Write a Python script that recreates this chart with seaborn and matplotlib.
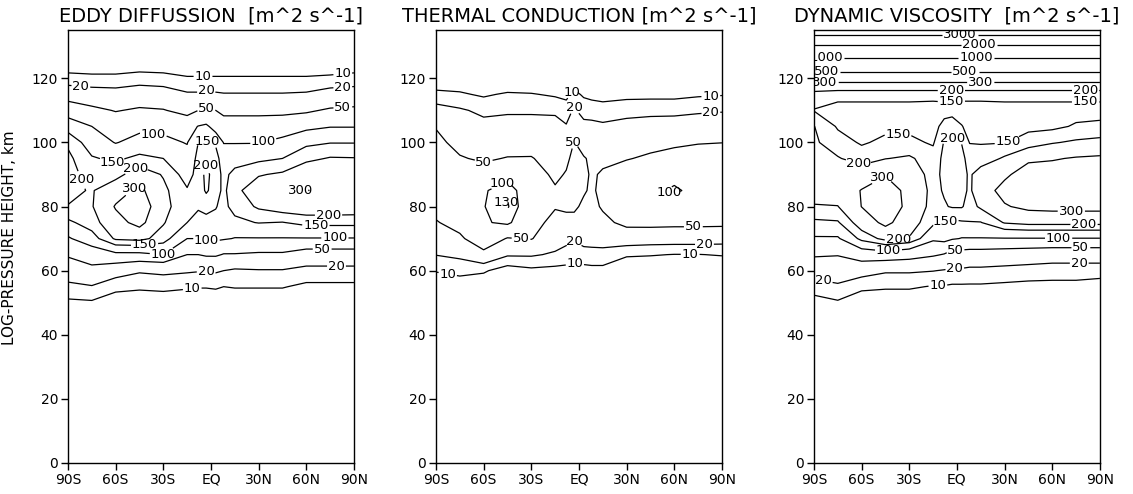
import numpy as np
import matplotlib
matplotlib.use("Agg")
import matplotlib.pyplot as plt
import seaborn as sns

# Grid: latitude columns (deg, S negative) and log-pressure heights (km)
lats = [-90, -75, -60, -45, -30, -15, -8, -3, 3, 8, 15, 30, 45, 60, 75, 90]
heights = [45, 50, 55, 60, 65, 70, 75, 80, 85, 90, 95, 100, 105, 110, 115, 120, 125, 130, 135]

# Eddy diffusion coefficient [m^2 s^-1]; one profile (45..135 km) per latitude
eddy_diffusion = [
    [5, 8.5, 17, 30, 55, 95, 140, 198, 215, 220, 215, 190, 130, 80, 35, 13, 6, 4, 3],      # 90S
    [5, 9, 19, 40, 75, 130, 175, 195, 195, 180, 155, 125, 100, 60, 30, 12, 6, 4, 3],       # 75S
    [5, 7, 12, 30, 90, 210, 260, 310, 250, 180, 140, 98, 80, 48, 28, 12, 6, 4, 3],         # 60S
    [5, 7, 11, 22, 90, 220, 340, 400, 330, 240, 165, 115, 90, 55, 32, 14, 6, 4, 3],        # 45S
    [4, 6.5, 12, 24, 100, 175, 205, 220, 215, 195, 150, 110, 90, 52, 30, 13, 6, 4, 3],     # 30S
    [4, 6, 11, 22, 50, 100, 150, 165, 155, 130, 115, 98, 80, 40, 22, 11, 5, 3, 2],         # 15S
    [4, 6, 10.5, 21, 50, 100, 135, 155, 165, 170, 165, 150, 102, 50, 22, 11, 5, 3, 2],     # 8S
    [4, 6, 10.5, 21, 55, 110, 140, 160, 210, 215, 190, 155, 110, 55, 24, 11, 5, 3, 2],     # 3S
    [4, 6, 11, 22, 55, 110, 140, 152, 170, 175, 165, 145, 80, 50, 22, 11, 5, 3, 2],        # 3N
    [4, 6, 10, 20, 48, 105, 135, 140, 140, 138, 130, 98, 70, 42, 21, 11, 5, 3, 2],         # 8N
    [4, 6, 10.5, 18, 48, 98, 140, 165, 185, 165, 130, 98, 70, 42, 21, 11, 5, 3, 2],        # 15N
    [4, 6, 10.5, 19, 45, 98, 152, 210, 240, 195, 140, 98, 70, 42, 21, 11, 5, 3, 2],        # 30N
    [4, 6, 10.5, 19, 45, 98, 148, 240, 285, 210, 150, 115, 75, 42, 21, 11, 5, 3, 2],       # 45N
    [4, 6, 8.5, 16, 35, 98, 165, 250, 305, 260, 185, 140, 90, 45, 22, 11, 5, 3, 2],        # 60N
    [4, 6, 8.5, 16, 35, 98, 165, 250, 280, 255, 205, 148, 98, 55, 28, 12, 5, 3, 2],        # 75N
    [4, 6, 8.5, 16, 35, 98, 165, 245, 270, 255, 203, 148, 98, 58, 30, 13, 6, 3, 2],        # 90N
]

# Thermal conduction coefficient [m^2 s^-1]
thermal_conduction = [
    [3, 4, 6, 10.5, 20.5, 35, 48, 60, 70, 72, 68, 60, 48, 28, 12, 6, 4, 3, 2],            # 90S
    [3, 4, 7, 12, 24, 45, 62, 72, 74, 68, 53, 40, 30, 22, 11, 6, 4, 3, 2],                # 75S
    [3, 4, 6, 11, 42, 75, 95, 98, 95, 70, 45, 33, 25, 17, 9, 5, 3, 2, 2],                 # 60S
    [3, 4, 5, 7, 22, 48, 110, 135, 125, 85, 52, 35, 27, 18, 11, 5, 3, 2, 2],              # 45S
    [3, 4, 5, 8.5, 22, 52, 62, 70, 70, 65, 52, 38, 27, 18, 10.5, 5, 3, 2, 2],             # 30S
    [3, 4, 5, 8, 18, 30, 42, 52, 53, 45, 38, 30, 25, 18, 9, 5, 3, 2, 2],                  # 15S
    [3, 4, 5, 8, 15, 25, 45, 53, 55, 52, 45, 35, 21, 15, 8, 4, 3, 2, 2],                  # 8S
    [3, 4, 5, 8, 13, 22, 42, 55, 58, 60, 58, 51, 35, 22, 12, 6, 3, 2, 2],                 # 3S
    [3, 4, 5, 7.5, 16, 25, 35, 45, 53, 56, 52, 40, 25, 15, 9, 5, 3, 2, 2],                # 3N
    [3, 4, 5, 8, 16, 26, 35, 42, 46, 47, 46, 38, 24, 15, 8, 4, 3, 2, 2],                  # 8N
    [3, 4, 5, 8, 16, 27, 42, 54, 58, 53, 45, 33, 22, 15, 7, 4, 3, 2, 2],                  # 15N
    [3, 4, 4.5, 5.5, 11, 32, 60, 68, 75, 72, 48, 40, 25, 16, 8, 4, 3, 2, 2],              # 30N
    [3, 4, 4.5, 5.5, 10.5, 30, 62, 82, 92, 85, 56, 40, 26, 17, 8, 4, 3, 2, 2],            # 45N
    [3, 4, 4.5, 5.5, 9.8, 30, 60, 88, 105, 90, 62, 45, 27, 17, 8, 4, 3, 2, 2],            # 60N
    [3, 4, 4.5, 5.5, 9.8, 30, 60, 80, 90, 85, 70, 48, 30, 18, 9, 5, 3, 2, 2],             # 75N
    [3, 4, 4.5, 5.5, 10.5, 28, 60, 78, 86, 84, 72, 49.5, 30, 19, 9.5, 5, 3, 2, 2],        # 90N
]

# Dynamic viscosity (kinematic form) [m^2 s^-1]
dynamic_viscosity = [
    [3, 7, 15, 28, 55, 95, 140, 198, 212, 215, 212, 210, 202, 148, 175, 370, 780, 1900, 3600],   # 90S
    [3, 9, 18, 30, 52, 95, 145, 198, 240, 245, 205, 170, 145, 135, 165, 370, 780, 1900, 3600],   # 75S
    [3, 6, 12, 28, 75, 165, 240, 302, 305, 245, 175, 145, 132, 135, 165, 370, 780, 1900, 3600],  # 60S
    [3, 6, 11, 22, 80, 220, 330, 420, 400, 290, 198, 160, 140, 135, 165, 370, 780, 1900, 3600],  # 45S
    [3, 6, 11, 22, 70, 195, 240, 260, 255, 240, 210, 160, 140, 135, 165, 370, 780, 1900, 3600],  # 30S
    [3, 5, 9.5, 20.5, 55, 110, 160, 180, 185, 180, 170, 145, 135, 132, 165, 370, 780, 1900, 3600],  # 15S
    [3, 5, 9.5, 19, 48, 120, 148, 195, 205, 215, 215, 205, 165, 135, 165, 370, 780, 1900, 3600],  # 8S
    [3, 5, 9, 18, 38, 105, 140, 205, 230, 235, 230, 210, 175, 135, 165, 370, 780, 1900, 3600],   # 3S
    [3, 5, 9, 18, 38, 98, 145, 205, 220, 225, 215, 198, 152, 132, 165, 370, 780, 1900, 3600],    # 3N
    [3, 5, 9, 17, 36, 98, 148, 180, 190, 190, 180, 148, 138, 132, 165, 370, 780, 1900, 3600],    # 8N
    [3, 5, 9, 17, 36, 98, 148, 210, 250, 240, 165, 148, 138, 132, 165, 370, 780, 1900, 3600],    # 15N
    [3, 4.5, 8.5, 16, 34, 98, 205, 290, 340, 280, 210, 148, 140, 135, 165, 370, 780, 1900, 3600],  # 30N
    [3, 4.5, 8, 15, 32, 98, 220, 330, 380, 360, 280, 170, 140, 135, 165, 370, 780, 1900, 3600],  # 45N
    [3, 4.5, 8, 14, 30, 98, 220, 340, 390, 370, 290, 195, 140, 135, 165, 370, 780, 1900, 3600],  # 60N
    [3, 4.5, 8, 14, 30, 98, 220, 340, 390, 370, 310, 210, 155, 135, 165, 370, 780, 1900, 3600],  # 75N
    [3, 4, 7, 14, 30, 98, 220, 340, 390, 370, 320, 220, 160, 135, 165, 370, 780, 1900, 3600],    # 90N
]

eddy_levels = [10, 20, 50, 100, 150, 200, 300]
thermal_levels = [10, 20, 50, 100, 130]
viscosity_levels = [10, 20, 50, 100, 150, 200, 300, 500, 1000, 2000, 3000]

titles = ["EDDY DIFFUSSION  [m^2 s^-1]",
          "THERMAL CONDUCTION [m^2 s^-1]",
          "DYNAMIC VISCOSITY  [m^2 s^-1]"]

lat_ticks = [-90, -60, -30, 0, 30, 60, 90]
lat_tick_labels = ["90S", "60S", "30S", "EQ", "30N", "60N", "90N"]
height_ticks = [0, 20, 40, 60, 80, 100, 120]

# Where the contour labels sit (lat, km)
eddy_label_pos = [(-5, 122), (83, 121.3), (-82, 117.2), (-3, 117.6), (83, 117.2),
                  (-3, 112), (83, 111), (-36, 103), (-3, 100), (33, 100.2),
                  (-65, 91.4), (-46, 91.4), (-85, 88), (-49, 86), (-3, 92.7),
                  (56, 84.6), (74, 76.3), (66, 73.5), (78, 70.5), (70, 67.5),
                  (79, 62.5), (-42, 68.5), (-30, 64.5), (-3, 68), (-3, 60.2), (-12, 54.8)]
thermal_label_pos = [(-3, 115.3), (83, 114.5), (-3, 110.9), (83, 109.4), (-3, 100),
                     (-62, 91.4), (-46, 86.2), (-50, 81.5), (57, 84.3), (72, 73.7),
                     (79, 68), (70, 64.3), (-37, 68), (-3, 69.8), (-2, 63.3), (-82, 59.7)]
viscosity_label_pos = [(2, 133.5), (14, 130.4), (-82, 126.5), (12, 125.9), (-82, 122.3),
                       (5, 122.3), (-83, 119), (15, 118.9), (-3.5, 116.1), (81, 116),
                       (-3.5, 113.2), (81, 113.2), (-37, 103.8), (-2.4, 101.8), (32, 100.2),
                       (-66.5, 90.3), (-47.6, 89.3), (-7.7, 75.8), (72, 77.8), (80, 74.5),
                       (64, 71), (78, 67.5), (77, 62.3), (-37, 70), (-43, 66),
                       (-1.4, 67.7), (-1.4, 60.7), (-12, 55.5), (-83, 58.1)]

sns.set_style("ticks", {"axes.edgecolor": "black", "xtick.color": "black",
                        "ytick.color": "black", "axes.labelcolor": "black",
                        "text.color": "black"})
plt.rcParams["font.family"] = ["DejaVu Sans"]
plt.rcParams["axes.linewidth"] = 1.0
plt.rcParams["xtick.major.size"] = 5
plt.rcParams["ytick.major.size"] = 5
plt.rcParams["xtick.major.width"] = 1.0
plt.rcParams["ytick.major.width"] = 1.0

fig = plt.figure(figsize=(11.33, 4.94), dpi=100)
lefts = [0.060, 0.3848, 0.7184]
panels = [(eddy_diffusion, eddy_levels, eddy_label_pos),
          (thermal_conduction, thermal_levels, thermal_label_pos),
          (dynamic_viscosity, viscosity_levels, viscosity_label_pos)]

for i, (field, levels, label_pos) in enumerate(panels):
    ax = fig.add_axes([lefts[i], 0.0628, 0.2524, 0.876])
    z = np.log10(np.array(field, dtype=float).T)
    cs = ax.contour(lats, heights, z, levels=np.log10(levels),
                    colors="black", linewidths=0.9)
    ax.clabel(cs, fmt=lambda v: f"{10 ** v:.0f}", manual=label_pos,
              inline=True, inline_spacing=1, fontsize=9.5)
    # contour labels are written upright, as plain horizontal numbers
    for t in cs.labelTexts:
        t.set_rotation(0)
        t.set_clip_on(True)
    ax.set_xlim(-90, 90)
    ax.set_ylim(0, 135)
    ax.set_xticks(lat_ticks)
    ax.set_xticklabels(lat_tick_labels)
    ax.set_yticks(height_ticks)
    ax.tick_params(labelsize=10, direction="out", pad=2)
    ax.set_title(titles[i], fontsize=14, pad=6)
    if i == 0:
        ax.set_ylabel("LOG-PRESSURE HEIGHT, km", fontsize=11)
        ax.yaxis.set_label_coords(-0.178, 0.52)

fig.savefig("out.png", dpi=100)
